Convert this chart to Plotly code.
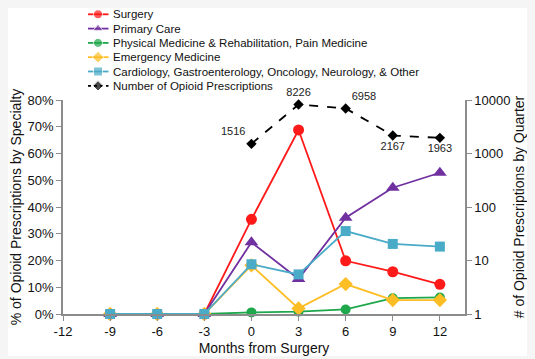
import plotly.graph_objects as go

months = [-9, -6, -3, 0, 3, 6, 9, 12]
surgery = [0, 0, 0, 35.4, 68.8, 19.9, 15.8, 11.1]
primary_care = [0, 0, 0, 26.8, 13.1, 36.0, 47.2, 52.8]
pmr_pain = [0, 0, 0, 0.6, 0.9, 1.7, 5.9, 6.2]
emergency = [0, 0, 0, 18.2, 2.1, 11.2, 5.2, 5.2]
other = [0, 0, 0, 18.6, 14.8, 31.0, 26.2, 25.2]

rx_months = [0, 3, 6, 9, 12]
rx_counts = [1516, 8226, 6958, 2167, 1963]
rx_label_pos = ["top left", "top center", "top right", "bottom center", "bottom center"]

x_ticks = [-12, -9, -6, -3, 0, 3, 6, 9, 12]
y_ticks = [0, 10, 20, 30, 40, 50, 60, 70, 80]
y2_ticks = [1, 10, 100, 1000, 10000]

FONT = "Liberation Sans, Arial, sans-serif"
OFF = 8                      # page body margin
W, H = 527 - OFF, 356 - OFF  # white figure area
PL, PR, PT, PB = 63 - OFF, 465 - OFF, 100 - OFF, 314 - OFF  # plot area in figure pixels

series = [
    ("Surgery", surgery, "#ff1a1a", "circle", 11, "solid"),
    ("Primary Care", primary_care, "#7030a0", "triangle-up", 12, "solid"),
    ("Physical Medicine & Rehabilitation, Pain Medicine", pmr_pain, "#1ea84b", "circle", 10, "solid"),
    ("Emergency Medicine", emergency, "#fdbd24", "diamond", 11, "solid"),
    ("Cardiology, Gastroenterology, Oncology, Neurology, & Other", other, "#4aabc8", "square", 10, "solid"),
]

fig = go.Figure()

for name, y, color, symbol, size, dash in series:
    fig.add_trace(go.Scatter(
        x=months, y=[v / 100 for v in y], name=name, mode="lines+markers",
        line=dict(color=color, width=1.8),
        marker=dict(color=color, symbol=symbol, size=size),
        showlegend=False, cliponaxis=False,
    ))

rx_name = "Number of Opioid Prescriptions"
fig.add_trace(go.Scatter(
    x=rx_months, y=rx_counts, name=rx_name, yaxis="y2",
    mode="lines+markers+text", text=[str(v) for v in rx_counts],
    textposition=rx_label_pos, textfont=dict(size=11, color="#222", family=FONT),
    line=dict(color="black", width=1.8, dash="dash"),
    marker=dict(color="black", symbol="diamond", size=8),
    showlegend=False, cliponaxis=False,
))

# custom compact legend drawn on a pixel-coordinate helper axis
legend_entries = series + [(rx_name, None, "black", "diamond", 8, "dash")]
for i, (name, _, color, symbol, size, dash) in enumerate(legend_entries):
    yrow = 14.3 - OFF + i * 14.3
    fig.add_trace(go.Scatter(
        x=[88 - OFF, 98 - OFF, 108.5 - OFF], y=[yrow] * 3, xaxis="x2", yaxis="y3",
        mode="lines+markers",
        line=dict(color=color, width=1.8, dash="dot" if dash == "dash" else "solid"),
        marker=dict(color=color, symbol=symbol, size=[0, min(size, 9), 0]),
        showlegend=False, hoverinfo="skip",
    ))
    fig.add_annotation(x=111 - OFF, y=yrow, xref="x2", yref="y3", text=name, showarrow=False,
                       xanchor="left", yanchor="middle",
                       font=dict(size=11.5, family=FONT, color="#111"))

axis_common = dict(
    showgrid=False, zeroline=False, showline=True, linecolor="#8c8c8c", linewidth=1.5,
    ticks="outside", ticklen=5, tickcolor="#8c8c8c",
    tickfont=dict(size=13, color="#111", family=FONT),
)

fig.update_layout(
    width=W, height=H,
    margin=dict(l=0, r=0, t=0, b=0, autoexpand=False),
    paper_bgcolor="white", plot_bgcolor="rgba(0,0,0,0)",
    font=dict(family=FONT, color="#111"),
    showlegend=False,
    xaxis=dict(domain=[PL / W, PR / W], range=[-12, 13.6], tickvals=x_ticks,
               ticktext=[str(t) for t in x_ticks],
               title=dict(text="Months from Surgery", font=dict(size=14), standoff=6),
               **axis_common),
    yaxis=dict(domain=[(H - PB) / H, (H - PT) / H], range=[0, 0.8],
               tickvals=[t / 100 for t in y_ticks], ticktext=[f"{t}%" for t in y_ticks],
               title=dict(text="% of Opioid Prescriptions by Specialty", font=dict(size=14), standoff=6),
               **axis_common),
    yaxis2=dict(type="log", range=[0, 4], overlaying="y", side="right", anchor="x",
                tickvals=y2_ticks, ticktext=[str(t) for t in y2_ticks],
                title=dict(text="# of Opioid Prescriptions by Quarter", font=dict(size=14), standoff=4),
                **axis_common),
    xaxis2=dict(domain=[0, 1], range=[0, W], visible=False, fixedrange=True),
    yaxis3=dict(domain=[0, 1], range=[H, 0], visible=False, fixedrange=True, anchor="x2"),
)

fig.write_html("out.html", post_script="document.body.style.background='#f5f5f5';")
